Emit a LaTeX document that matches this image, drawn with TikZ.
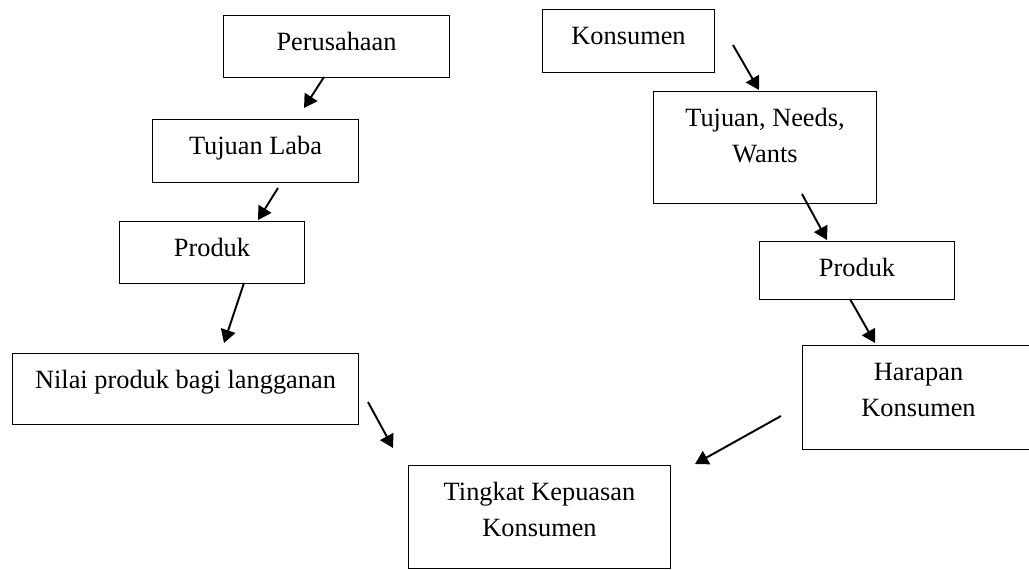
\documentclass[tikz,border=0pt]{standalone}
\usepackage{fontspec}
\setmainfont{Liberation Serif}
\usetikzlibrary{arrows.meta}

\tikzset{
  box/.style={draw, line width=0.6pt, anchor=north west, align=center, inner sep=0pt,
    text height=0.7cm, font=\fontsize{15}{20.5}\selectfont},
  arr/.style={line width=1.1pt, -{Triangle[length=7.5pt,width=8.5pt]}}
}

\begin{document}
\begin{tikzpicture}[x=0.2mm, y=-0.2mm]
  \useasboundingbox (0,0) rectangle (1029,569);
  % left side
  \node[box, minimum width=4.52cm, text depth=0.54cm] (perusahaan) at (223,15) {Perusahaan};
  \node[box, minimum width=4.12cm, text depth=0.56cm] (laba) at (152,119) {Tujuan Laba};
  \node[box, minimum width=3.70cm, text depth=0.54cm] (produkL) at (119,221) {Produk};
  \node[box, minimum width=6.92cm, text depth=0.72cm] (nilai) at (12,353) {Nilai produk bagi langganan};
  % right side
  \node[box, minimum width=3.44cm, text depth=0.56cm] (konsumen) at (542,9) {Konsumen};
  \node[box, minimum width=4.46cm, text height=1.42cm, text depth=0.82cm] (needs) at (653,91) {Tujuan, Needs,\\Wants};
  \node[box, minimum width=3.90cm, text depth=0.46cm] (produkR) at (759,241) {Produk};
  \node[box, minimum width=4.64cm, text height=1.42cm, text depth=0.66cm] (harapan) at (802,345) {Harapan\\Konsumen};
  \node[box, minimum width=5.24cm, text height=1.42cm, text depth=0.64cm] (kepuasan) at (408,465) {Tingkat Kepuasan\\Konsumen};

  \coordinate (a1s) at (324,77);  \coordinate (a1e) at (304,108);
  \coordinate (a2s) at (278,188); \coordinate (a2e) at (258,220);
  \coordinate (a3s) at (244,283); \coordinate (a3e) at (224,343);
  \coordinate (a4s) at (368,402); \coordinate (a4e) at (393,448);
  \coordinate (b1s) at (733,45);  \coordinate (b1e) at (759,90);
  \coordinate (b2s) at (802,194); \coordinate (b2e) at (827,240);
  \coordinate (b3s) at (850,299); \coordinate (b3e) at (875,343);
  \coordinate (b4s) at (781,416); \coordinate (b4e) at (695,464);

  \draw[arr] (a1s) -- (a1e);
  \draw[arr] (a2s) -- (a2e);
  \draw[arr] (a3s) -- (a3e);
  \draw[arr] (a4s) -- (a4e);
  \draw[arr] (b1s) -- (b1e);
  \draw[arr] (b2s) -- (b2e);
  \draw[arr] (b3s) -- (b3e);
  \draw[arr] (b4s) -- (b4e);
\end{tikzpicture}
\end{document}
